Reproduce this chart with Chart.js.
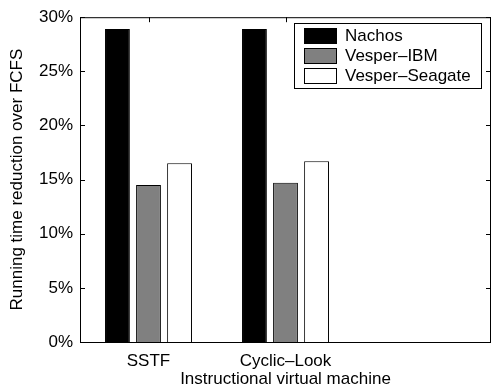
<!DOCTYPE html>
<html>
<head>
<meta charset="utf-8">
<script src="https://cdn.jsdelivr.net/npm/chart.js@4.4.0/dist/chart.umd.min.js"></script>
<style>
  html, body { margin: 0; padding: 0; background: #fff; }
  #wrap { width: 492px; height: 390px; }
</style>
</head>
<body>
<div id="wrap"><canvas id="chart" width="492" height="390"></canvas></div>
<script>
// data (percent)
const categories = ['SSTF', 'Cyclic\u2013Look', ''];
const seriesNames = ['Nachos', 'Vesper\u2013IBM', 'Vesper\u2013Seagate'];
const nachos = [28.9, 28.9, null];
const vesperIBM = [14.5, 14.7, null];
const vesperSeagate = [16.5, 16.7, null];
const yTicks = [0, 5, 10, 15, 20, 25, 30];

const fills = ['#000000', '#808080', '#ffffff'];
const FONT = '"Liberation Sans", Arial, Helvetica, sans-serif';
Chart.defaults.font.family = FONT;
Chart.defaults.color = '#000';

// matlab style box + inward ticks, drawn under the bars
const frame = {
  id: 'frame',
  beforeDatasetsDraw(chart) {
    const { ctx, chartArea: a, scales } = chart;
    ctx.save();
    ctx.strokeStyle = '#000';
    ctx.lineWidth = 1;
    ctx.strokeRect(a.left + 0.5, a.top + 0.5, a.right - a.left - 1, a.bottom - a.top);
    ctx.beginPath();
    yTicks.forEach(v => {
      const y = Math.round(scales.y.getPixelForValue(v)) + 0.5;
      ctx.moveTo(a.left, y); ctx.lineTo(a.left + 5, y);
      ctx.moveTo(a.right, y); ctx.lineTo(a.right - 5, y);
    });
    categories.forEach((c, i) => {
      if (!c) return;
      const x = Math.round(scales.x.getPixelForValue(i)) + 0.5;
      ctx.moveTo(x, a.top); ctx.lineTo(x, a.top + 5);
      ctx.moveTo(x, a.bottom); ctx.lineTo(x, a.bottom - 5);
    });
    ctx.stroke();
    ctx.restore();
  }
};

// legend box in the top right corner
const boxLegend = {
  id: 'boxLegend',
  afterDraw(chart) {
    const { ctx } = chart;
    const x0 = 294, y0 = 23, w = 187, h = 65;
    ctx.save();
    ctx.fillStyle = '#fff';
    ctx.fillRect(x0, y0, w, h);
    ctx.strokeStyle = '#000';
    ctx.lineWidth = 1;
    ctx.strokeRect(x0 + 0.5, y0 + 0.5, w, h);
    ctx.font = '17px ' + FONT;
    ctx.textBaseline = 'middle';
    chart.data.datasets.forEach((ds, i) => {
      const y = y0 + 5 + i * 20;
      ctx.fillStyle = ds.backgroundColor;
      ctx.fillRect(x0 + 10, y, 32, 15);
      ctx.strokeRect(x0 + 10.5, y + 0.5, 32, 15);
      ctx.fillStyle = '#000';
      ctx.fillText(ds.label, x0 + 51, y + 8);
    });
    ctx.restore();
  }
};

new Chart(document.getElementById('chart'), {
  type: 'bar',
  data: {
    labels: categories,
    datasets: [nachos, vesperIBM, vesperSeagate].map((d, i) => ({
      label: seriesNames[i],
      data: d,
      backgroundColor: fills[i],
      borderColor: '#000',
      borderWidth: 1,
      categoryPercentage: 0.68,
      barPercentage: 0.8
    }))
  },
  options: {
    responsive: false,
    animation: false,
    layout: { padding: { top: 15, right: 1, left: 0, bottom: 0 } },
    plugins: { legend: { display: false }, tooltip: { enabled: false } },
    scales: {
      x: {
        offset: true,
        grid: { display: false, drawTicks: false },
        border: { display: false },
        ticks: { font: { size: 17 }, color: '#000', padding: 9, maxRotation: 0, autoSkip: false },
        title: { display: true, text: 'Instructional virtual machine', font: { size: 17 }, color: '#000', padding: { top: 0, bottom: 0 } },
        afterFit(s) { s.height = 48; }
      },
      y: {
        min: 0,
        max: 30,
        grid: { display: false, drawTicks: false },
        border: { display: false },
        ticks: { stepSize: 5, font: { size: 17 }, color: '#000', padding: 7, callback: v => v + '%' },
        title: { display: true, text: 'Running time reduction over FCFS', font: { size: 17 }, color: '#000', padding: { top: 7, bottom: 0 } },
        afterFit(s) { s.width = 80; }
      }
    }
  },
  plugins: [frame, boxLegend]
});
</script>
</body>
</html>
